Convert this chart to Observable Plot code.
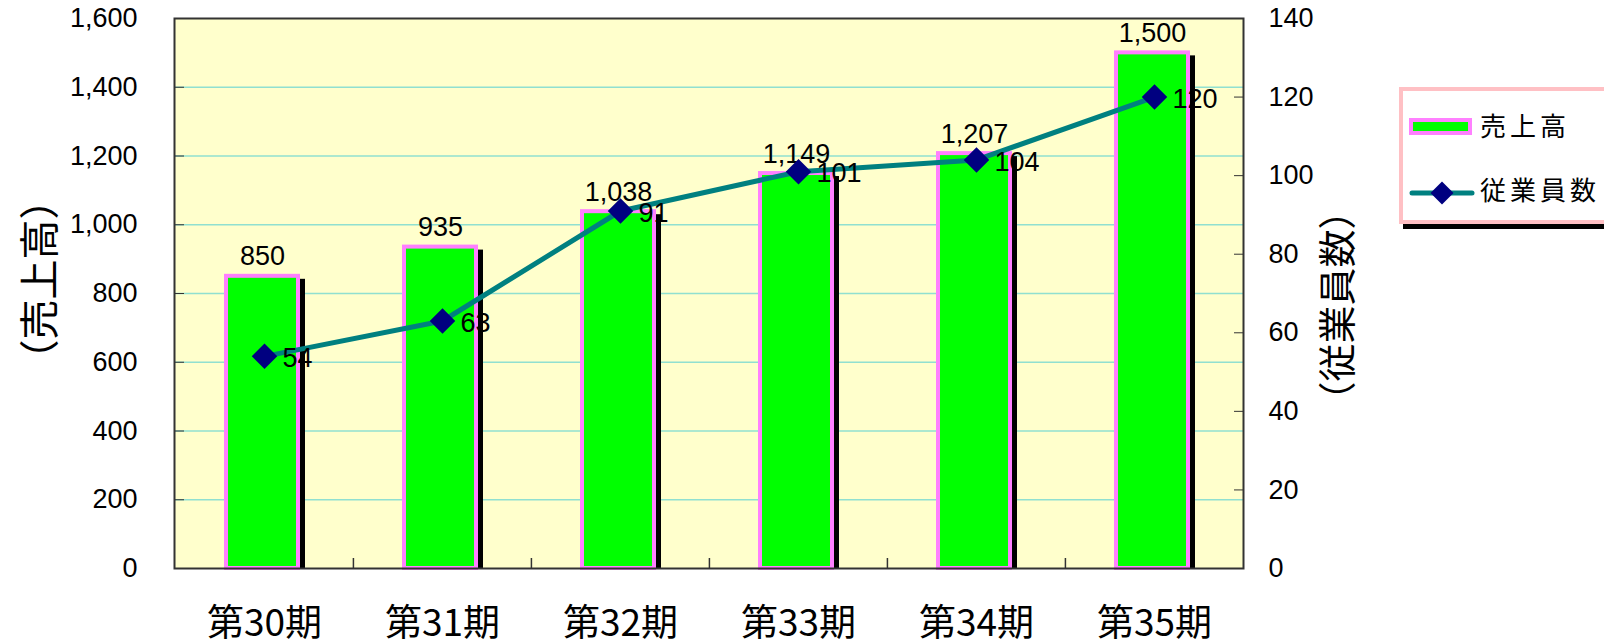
<!DOCTYPE html>
<html>
<head>
<meta charset="utf-8">
<script src="https://cdn.jsdelivr.net/npm/d3@7"></script>
<script src="https://cdn.jsdelivr.net/npm/@observablehq/plot@0.6"></script>
<style>
  html, body { margin: 0; padding: 0; background: #ffffff; }
  #wrap { position: relative; width: 1604px; height: 642px; overflow: hidden; }
  #legend { position: absolute; left: 1399px; top: 87px; width: 210px; height: 137px; box-sizing: border-box;
            border: 4px solid #ffc0c4; background: #fff; box-shadow: 4px 5px 0 #000; }
  #legend .sw { position: absolute; left: 6px; top: 27px; width: 55px; height: 9px; background: #00ff00; border: 4px solid #ff80ff; }
  #legend .txt { position: absolute; left: 77px; font-family: "Noto Sans CJK JP", sans-serif; font-size: 26px; letter-spacing: 4px; line-height: 1; color: #000; }
  #legend svg { position: absolute; left: 6px; top: 89px; }
</style>
</head>
<body>
<div id="wrap"></div>
<script>
const periods = ["第30期", "第31期", "第32期", "第33期", "第34期", "第35期"];
const sales = [850, 935, 1038, 1149, 1207, 1500];
const employees = [54, 63, 91, 101, 104, 120];
const salesTicks = [0, 200, 400, 600, 800, 1000, 1200, 1400, 1600];
const gridTicks = [200, 400, 600, 800, 1000, 1200, 1400];
const empTicks = [0, 20, 40, 60, 80, 100, 120, 140];
const salesMax = 1600, empMax = 140;
const seriesNames = ["売上高", "従業員数"];
const axisTitles = ["（売上高）", "（従業員数）"];

const k = salesMax / empMax;
const data = periods.map((p, i) => ({period: p, sales: sales[i], emp: employees[i]}));

const W = 1604, H = 642, mL = 174, mR = 361, mT = 18, mB = 74;
const step = (W - mL - mR) / periods.length;
const plotH = H - mT - mB;
const numFont = "'Liberation Sans', Arial, sans-serif";
const cjkFont = "'Noto Sans CJK JP', sans-serif";

const chart = Plot.plot({
  width: W, height: H,
  marginLeft: mL, marginRight: mR, marginTop: mT, marginBottom: mB,
  style: {background: "transparent", fontFamily: numFont, color: "#000"},
  x: {domain: periods, paddingInner: 0.596, paddingOuter: 0.298},
  y: {domain: [0, salesMax]},
  marks: [
    Plot.frame({fill: "#ffffcc"}),
    Plot.gridY(gridTicks, {stroke: "#90e0d0", strokeOpacity: 1, strokeWidth: 1.5}),
    Plot.barY(data, {x: "period", y: "sales", fill: "#000", dx: 3, insetTop: 3, insetLeft: -2, insetRight: -2}),
    Plot.barY(data, {x: "period", y: "sales", fill: "#00ff00", stroke: "#ff80ff", strokeWidth: 4, dx: -2}),
    Plot.text(data, {x: "period", y: "sales", text: d => d3.format(",")(d.sales), dx: -2, dy: -11, lineAnchor: "bottom", fontSize: 27, fontFamily: numFont}),
    Plot.line(data, {x: "period", y: d => d.emp * k, stroke: "#008080", strokeWidth: 5}),
    Plot.dot(data, {x: "period", y: d => d.emp * k, symbol: "diamond2", r: 11.5, fill: "#000080", stroke: null}),
    Plot.text(data, {x: "period", y: d => d.emp * k, text: d => String(d.emp), dx: 18, dy: 2, textAnchor: "start", fontSize: 27, fontFamily: numFont}),
    Plot.ruleX(periods.slice(1), {dx: -step / 2, insetTop: plotH - 10, stroke: "#333", strokeWidth: 1.5}),
    Plot.axisY(salesTicks, {anchor: "left", tickSize: -10, tickPadding: 47, tickFormat: d3.format(","), fontSize: 27, stroke: "#333", label: null}),
    Plot.axisY(empTicks.map(v => v * k), {anchor: "right", tickSize: -10, tickPadding: 35, tickFormat: d => String(Math.round(d / k)), fontSize: 27, stroke: "#333", label: null}),
    Plot.axisX({tickSize: 0, tickPadding: 41, fontSize: 37, fontFamily: cjkFont, label: null}),
    Plot.text([axisTitles[0]], {text: d => d, frameAnchor: "left", textAnchor: "middle", rotate: -90, dx: -133, dy: -14, fontSize: 40, fontFamily: cjkFont}),
    Plot.text([axisTitles[1]], {text: d => d, frameAnchor: "right", textAnchor: "middle", rotate: -90, dx: 95, dy: 12, fontSize: 38, fontFamily: cjkFont}),
    Plot.frame({stroke: "#333", strokeWidth: 2})
  ]
});

const wrap = document.getElementById("wrap");
wrap.appendChild(chart);

const legend = document.createElement("div");
legend.id = "legend";
legend.innerHTML = `
  <div class="sw"></div>
  <div class="txt" style="top:${38 - 4 - 13}px">${seriesNames[0]}</div>
  <svg width="66" height="26" viewBox="0 0 66 26">
    <line x1="3" y1="13" x2="63" y2="13" stroke="#008080" stroke-width="5" stroke-linecap="round"/>
    <path d="M33,1.5 L44.5,13 L33,24.5 L21.5,13 Z" fill="#000080"/>
  </svg>
  <div class="txt" style="top:${103 - 4 - 14}px">${seriesNames[1]}</div>`;
wrap.appendChild(legend);
</script>
</body>
</html>
